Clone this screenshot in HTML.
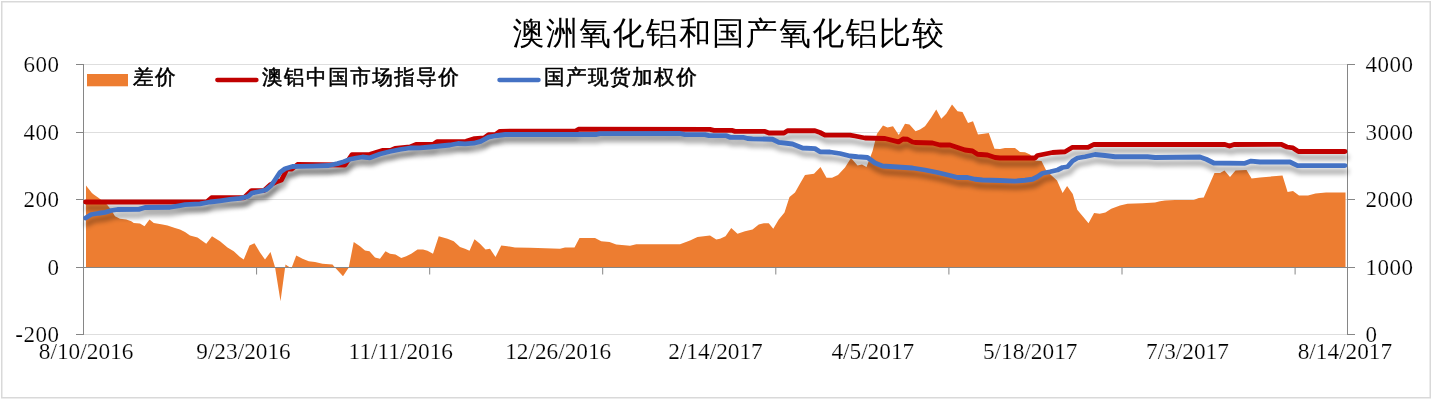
<!DOCTYPE html>
<html><head><meta charset="utf-8"><title>澳洲氧化铝和国产氧化铝比较</title>
<style>html,body{margin:0;padding:0;background:#fff;overflow:hidden}svg{display:block;will-change:transform}</style></head>
<body><svg width="1432" height="400" viewBox="0 0 1432 400"><defs><filter id="bl" x="-5%" y="-50%" width="110%" height="200%"><feGaussianBlur stdDeviation="2.5"/></filter></defs><rect x="0" y="0" width="1432" height="400" fill="#fff"/><rect x="1.75" y="1.75" width="1428.5" height="396" fill="none" stroke="#d9d9d9" stroke-width="1.5"/><line x1="84" y1="64.5" x2="1347" y2="64.5" stroke="#dedede" stroke-width="1"/><line x1="84" y1="132.5" x2="1347" y2="132.5" stroke="#dedede" stroke-width="1"/><line x1="84" y1="199.5" x2="1347" y2="199.5" stroke="#dedede" stroke-width="1"/><line x1="84" y1="334.5" x2="1347" y2="334.5" stroke="#dedede" stroke-width="1"/><polygon points="86.00,267.50 86.00,185.60 91.90,193.10 93.75,194.40 98.75,198.10 106.90,204.40 111.25,210.00 115.00,216.25 120.00,218.75 126.25,219.50 131.25,221.25 133.75,223.00 140.00,223.50 144.50,226.25 149.50,219.50 153.75,223.00 162.50,224.50 167.50,225.50 175.00,228.00 180.00,229.50 185.00,232.00 190.00,235.50 197.50,237.50 206.25,243.75 212.00,236.25 220.00,241.25 227.50,247.50 233.75,251.25 240.00,257.00 243.75,259.50 249.50,245.50 254.50,243.25 260.00,252.50 265.00,259.50 270.50,252.00 275.00,267.00 280.50,301.25 285.50,264.50 290.00,267.50 291.25,268.75 296.25,255.50 302.50,258.75 308.75,261.25 315.00,262.00 322.50,263.75 332.50,264.50 335.00,267.50 343.00,276.25 348.75,267.50 353.75,242.00 360.00,246.25 365.00,250.50 369.50,251.25 375.00,257.50 380.00,258.75 385.50,251.25 390.00,253.75 395.50,254.50 401.25,258.00 406.25,256.25 411.25,253.75 417.50,249.50 423.00,249.50 427.50,250.75 433.00,253.75 438.75,236.25 447.50,238.75 453.75,241.25 460.00,247.00 465.00,248.75 469.50,250.75 474.50,239.25 480.00,243.75 485.50,249.50 490.00,248.75 495.50,257.00 501.25,245.50 507.50,246.25 515.00,247.50 530.00,247.80 560.00,248.75 565.00,247.50 574.50,247.50 579.50,238.00 595.00,238.00 601.25,241.25 609.50,242.00 616.25,244.50 630.00,245.75 636.25,244.25 680.00,244.25 690.00,240.50 697.50,237.00 703.75,236.25 710.00,235.50 716.25,239.50 720.00,238.75 725.50,236.25 731.25,228.00 737.50,233.75 745.00,231.25 752.50,229.50 758.75,224.50 763.75,223.25 768.75,223.25 773.25,228.75 778.75,219.50 784.50,212.50 789.50,197.00 795.00,192.50 799.50,184.50 805.00,175.00 814.00,173.75 820.50,167.00 826.50,177.75 832.00,177.75 838.00,175.00 845.00,167.50 851.00,158.00 857.50,165.50 862.00,164.50 866.50,167.00 872.50,151.25 877.00,133.75 883.00,125.50 887.50,127.50 893.00,126.25 898.75,135.00 905.00,123.75 909.50,124.50 915.50,131.25 920.00,129.50 925.00,126.25 931.25,117.50 936.25,109.50 941.25,118.75 946.25,113.75 952.00,104.50 957.50,111.25 962.50,112.00 968.00,123.00 973.00,121.25 978.00,134.50 983.75,133.75 988.75,133.00 994.50,148.75 1000.00,149.00 1005.00,148.10 1015.00,148.10 1020.00,151.90 1025.00,152.25 1030.00,154.40 1035.00,160.50 1041.50,161.00 1046.00,170.00 1051.00,175.00 1057.00,180.50 1062.60,192.90 1067.10,186.10 1072.75,194.00 1077.25,209.75 1082.90,216.50 1088.50,223.25 1094.10,213.10 1099.75,213.80 1105.40,212.50 1111.25,208.75 1120.00,205.50 1127.50,203.75 1142.50,203.25 1155.00,202.50 1160.00,201.25 1165.00,200.50 1175.00,200.00 1193.75,200.00 1198.75,198.00 1203.75,197.50 1214.50,173.00 1220.00,173.00 1224.50,170.50 1230.00,177.00 1235.50,170.50 1246.50,170.00 1251.60,178.60 1260.00,177.40 1282.50,175.60 1287.60,192.10 1293.00,191.00 1299.00,195.40 1308.00,195.40 1315.50,193.60 1326.00,192.40 1345.50,192.40 1345.50,267.50" fill="#ED7D31"/><line x1="83" y1="267.5" x2="1348" y2="267.5" stroke="#868686" stroke-width="1"/><line x1="256.6" y1="267" x2="256.6" y2="274.5" stroke="#868686" stroke-width="1"/><line x1="429.7" y1="267" x2="429.7" y2="274.5" stroke="#868686" stroke-width="1"/><line x1="602.7" y1="267" x2="602.7" y2="274.5" stroke="#868686" stroke-width="1"/><line x1="775.8" y1="267" x2="775.8" y2="274.5" stroke="#868686" stroke-width="1"/><line x1="948.9" y1="267" x2="948.9" y2="274.5" stroke="#868686" stroke-width="1"/><line x1="1122.0" y1="267" x2="1122.0" y2="274.5" stroke="#868686" stroke-width="1"/><line x1="1295.1" y1="267" x2="1295.1" y2="274.5" stroke="#868686" stroke-width="1"/><line x1="83.5" y1="64" x2="83.5" y2="335" stroke="#868686" stroke-width="1"/><line x1="1347.5" y1="64" x2="1347.5" y2="335" stroke="#868686" stroke-width="1"/><line x1="76" y1="64.5" x2="84" y2="64.5" stroke="#868686" stroke-width="1"/><line x1="1347" y1="64.5" x2="1355" y2="64.5" stroke="#868686" stroke-width="1"/><line x1="76" y1="132.5" x2="84" y2="132.5" stroke="#868686" stroke-width="1"/><line x1="1347" y1="132.5" x2="1355" y2="132.5" stroke="#868686" stroke-width="1"/><line x1="76" y1="199.5" x2="84" y2="199.5" stroke="#868686" stroke-width="1"/><line x1="1347" y1="199.5" x2="1355" y2="199.5" stroke="#868686" stroke-width="1"/><line x1="76" y1="267.5" x2="84" y2="267.5" stroke="#868686" stroke-width="1"/><line x1="1347" y1="267.5" x2="1355" y2="267.5" stroke="#868686" stroke-width="1"/><line x1="76" y1="334.5" x2="84" y2="334.5" stroke="#868686" stroke-width="1"/><line x1="1347" y1="334.5" x2="1355" y2="334.5" stroke="#868686" stroke-width="1"/><g transform="translate(1.5,6)" filter="url(#bl)" opacity="0.36"><polyline points="85.60,202.00 206.50,202.00 211.50,197.75 244.00,197.75 251.50,190.60 264.00,190.60 270.00,185.00 276.00,182.00 281.50,180.00 287.00,169.00 292.00,169.00 297.50,164.50 345.00,165.00 352.00,154.70 370.00,154.40 383.00,150.40 391.00,150.20 395.00,148.40 410.00,146.90 416.00,144.40 433.00,144.40 437.00,141.60 466.00,141.40 474.60,138.60 484.20,138.00 488.60,134.60 495.60,134.50 500.00,131.30 575.50,131.00 578.50,129.25 710.00,129.40 714.00,130.30 731.70,130.30 735.00,131.40 765.00,131.40 769.00,133.00 784.00,133.00 787.50,130.75 815.00,130.75 820.00,132.50 825.00,135.10 850.00,135.10 855.00,136.00 865.00,138.00 885.00,138.50 898.50,141.90 903.00,139.00 907.50,139.25 912.50,142.00 915.00,142.50 932.50,143.00 940.00,145.00 950.00,145.00 957.50,147.50 965.00,150.00 972.50,151.00 977.50,154.25 987.50,155.00 995.00,157.50 1000.00,158.00 1035.00,158.00 1037.50,155.50 1045.00,154.00 1052.50,152.50 1065.00,151.75 1072.50,147.30 1088.00,147.30 1094.00,144.40 1225.00,144.50 1229.50,146.00 1234.00,144.50 1281.00,144.30 1287.00,147.00 1293.00,147.90 1298.40,151.50 1345.00,151.50" fill="none" stroke="#000" stroke-width="4.8" stroke-linejoin="round" stroke-linecap="round"/></g><g transform="translate(1.5,6)" filter="url(#bl)" opacity="0.36"><polyline points="85.60,218.00 91.25,214.50 98.75,213.25 105.00,212.40 111.25,210.50 117.50,209.50 138.75,209.40 145.00,207.50 170.00,207.25 180.00,205.60 185.00,204.70 200.00,203.80 210.00,202.00 220.00,200.80 230.00,199.40 240.00,198.30 248.00,196.50 252.00,193.00 262.00,191.00 266.25,189.70 271.25,185.50 276.25,178.00 280.00,172.40 285.00,168.70 292.50,166.50 300.00,166.30 312.50,166.10 328.75,165.50 337.50,163.60 343.75,161.75 350.00,159.25 356.25,158.00 362.50,157.00 370.00,157.80 380.00,154.00 390.00,151.50 400.00,149.50 410.00,148.00 420.00,147.80 430.00,147.00 440.00,146.00 450.00,145.00 458.00,143.50 465.00,143.80 473.75,143.20 480.75,141.40 488.60,137.10 495.60,135.75 505.25,134.50 596.50,134.50 599.80,133.70 680.00,133.50 685.00,134.70 705.00,134.70 709.00,135.70 726.50,135.70 730.00,137.30 743.00,137.30 747.50,138.50 752.50,138.80 772.50,139.25 778.75,142.40 792.50,144.00 802.50,148.00 815.00,148.60 820.00,151.75 830.00,152.00 840.00,153.50 850.00,156.00 857.50,156.75 867.50,157.50 875.00,163.00 882.50,166.00 897.50,167.00 912.50,168.00 925.00,170.00 937.50,172.50 950.00,175.50 957.50,177.50 967.50,177.50 975.00,179.25 982.50,180.00 1000.00,180.50 1015.00,181.10 1025.00,180.25 1032.50,179.25 1037.50,176.75 1042.50,173.25 1050.00,171.75 1057.50,170.00 1062.50,167.50 1067.50,166.75 1072.50,161.00 1077.50,158.00 1085.00,156.75 1095.00,154.50 1105.00,155.50 1115.00,156.75 1147.50,156.75 1155.00,157.50 1200.00,157.00 1206.25,159.25 1213.75,163.00 1245.00,163.30 1251.00,161.10 1260.00,162.00 1290.00,162.00 1297.50,165.60 1345.00,165.60" fill="none" stroke="#000" stroke-width="4.8" stroke-linejoin="round" stroke-linecap="round"/></g><polyline points="85.60,202.00 206.50,202.00 211.50,197.75 244.00,197.75 251.50,190.60 264.00,190.60 270.00,185.00 276.00,182.00 281.50,180.00 287.00,169.00 292.00,169.00 297.50,164.50 345.00,165.00 352.00,154.70 370.00,154.40 383.00,150.40 391.00,150.20 395.00,148.40 410.00,146.90 416.00,144.40 433.00,144.40 437.00,141.60 466.00,141.40 474.60,138.60 484.20,138.00 488.60,134.60 495.60,134.50 500.00,131.30 575.50,131.00 578.50,129.25 710.00,129.40 714.00,130.30 731.70,130.30 735.00,131.40 765.00,131.40 769.00,133.00 784.00,133.00 787.50,130.75 815.00,130.75 820.00,132.50 825.00,135.10 850.00,135.10 855.00,136.00 865.00,138.00 885.00,138.50 898.50,141.90 903.00,139.00 907.50,139.25 912.50,142.00 915.00,142.50 932.50,143.00 940.00,145.00 950.00,145.00 957.50,147.50 965.00,150.00 972.50,151.00 977.50,154.25 987.50,155.00 995.00,157.50 1000.00,158.00 1035.00,158.00 1037.50,155.50 1045.00,154.00 1052.50,152.50 1065.00,151.75 1072.50,147.30 1088.00,147.30 1094.00,144.40 1225.00,144.50 1229.50,146.00 1234.00,144.50 1281.00,144.30 1287.00,147.00 1293.00,147.90 1298.40,151.50 1345.00,151.50" fill="none" stroke="#C00000" stroke-width="4.8" stroke-linejoin="round" stroke-linecap="round"/><polyline points="85.60,218.00 91.25,214.50 98.75,213.25 105.00,212.40 111.25,210.50 117.50,209.50 138.75,209.40 145.00,207.50 170.00,207.25 180.00,205.60 185.00,204.70 200.00,203.80 210.00,202.00 220.00,200.80 230.00,199.40 240.00,198.30 248.00,196.50 252.00,193.00 262.00,191.00 266.25,189.70 271.25,185.50 276.25,178.00 280.00,172.40 285.00,168.70 292.50,166.50 300.00,166.30 312.50,166.10 328.75,165.50 337.50,163.60 343.75,161.75 350.00,159.25 356.25,158.00 362.50,157.00 370.00,157.80 380.00,154.00 390.00,151.50 400.00,149.50 410.00,148.00 420.00,147.80 430.00,147.00 440.00,146.00 450.00,145.00 458.00,143.50 465.00,143.80 473.75,143.20 480.75,141.40 488.60,137.10 495.60,135.75 505.25,134.50 596.50,134.50 599.80,133.70 680.00,133.50 685.00,134.70 705.00,134.70 709.00,135.70 726.50,135.70 730.00,137.30 743.00,137.30 747.50,138.50 752.50,138.80 772.50,139.25 778.75,142.40 792.50,144.00 802.50,148.00 815.00,148.60 820.00,151.75 830.00,152.00 840.00,153.50 850.00,156.00 857.50,156.75 867.50,157.50 875.00,163.00 882.50,166.00 897.50,167.00 912.50,168.00 925.00,170.00 937.50,172.50 950.00,175.50 957.50,177.50 967.50,177.50 975.00,179.25 982.50,180.00 1000.00,180.50 1015.00,181.10 1025.00,180.25 1032.50,179.25 1037.50,176.75 1042.50,173.25 1050.00,171.75 1057.50,170.00 1062.50,167.50 1067.50,166.75 1072.50,161.00 1077.50,158.00 1085.00,156.75 1095.00,154.50 1105.00,155.50 1115.00,156.75 1147.50,156.75 1155.00,157.50 1200.00,157.00 1206.25,159.25 1213.75,163.00 1245.00,163.30 1251.00,161.10 1260.00,162.00 1290.00,162.00 1297.50,165.60 1345.00,165.60" fill="none" stroke="#4472C4" stroke-width="4.8" stroke-linejoin="round" stroke-linecap="round"/><text x="512.5" y="43.8" font-family="'Liberation Sans','WenQuanYi Zen Hei','Noto Sans CJK SC',sans-serif" font-size="32" letter-spacing="1.3" fill="#000">澳洲氧化铝和国产氧化铝比较</text><rect x="87" y="74" width="41" height="12.3" fill="#ED7D31"/><text x="133" y="84.3" font-family="'Liberation Sans','WenQuanYi Zen Hei','Noto Sans CJK SC',sans-serif" font-size="20.6" letter-spacing="1.45" fill="#000" stroke="#000" stroke-width="0.5">差价</text><line x1="217.3" y1="80" x2="256.5" y2="80" stroke="#C00000" stroke-width="4.3" stroke-linecap="round"/><text x="262" y="84.3" font-family="'Liberation Sans','WenQuanYi Zen Hei','Noto Sans CJK SC',sans-serif" font-size="20.6" letter-spacing="1.45" fill="#000" stroke="#000" stroke-width="0.5">澳铝中国市场指导价</text><line x1="499.4" y1="80" x2="538.6" y2="80" stroke="#4472C4" stroke-width="4.3" stroke-linecap="round"/><text x="543.9" y="84.3" font-family="'Liberation Sans','WenQuanYi Zen Hei','Noto Sans CJK SC',sans-serif" font-size="20.6" letter-spacing="1.45" fill="#000" stroke="#000" stroke-width="0.5">国产现货加权价</text><text x="59.5" y="72" text-anchor="end" font-family="'Liberation Serif','Times New Roman',serif" font-size="23" letter-spacing="0.5" fill="#000" stroke="#fff" stroke-width="0.2">600</text><text x="59.5" y="140" text-anchor="end" font-family="'Liberation Serif','Times New Roman',serif" font-size="23" letter-spacing="0.5" fill="#000" stroke="#fff" stroke-width="0.2">400</text><text x="59.5" y="207" text-anchor="end" font-family="'Liberation Serif','Times New Roman',serif" font-size="23" letter-spacing="0.5" fill="#000" stroke="#fff" stroke-width="0.2">200</text><text x="59.5" y="275" text-anchor="end" font-family="'Liberation Serif','Times New Roman',serif" font-size="23" letter-spacing="0.5" fill="#000" stroke="#fff" stroke-width="0.2">0</text><text x="59.5" y="342" text-anchor="end" font-family="'Liberation Serif','Times New Roman',serif" font-size="23" letter-spacing="0.5" fill="#000" stroke="#fff" stroke-width="0.2">-200</text><text x="1365.5" y="72" font-family="'Liberation Serif','Times New Roman',serif" font-size="23" letter-spacing="0.5" fill="#000" stroke="#fff" stroke-width="0.2">4000</text><text x="1365.5" y="140" font-family="'Liberation Serif','Times New Roman',serif" font-size="23" letter-spacing="0.5" fill="#000" stroke="#fff" stroke-width="0.2">3000</text><text x="1365.5" y="207" font-family="'Liberation Serif','Times New Roman',serif" font-size="23" letter-spacing="0.5" fill="#000" stroke="#fff" stroke-width="0.2">2000</text><text x="1365.5" y="275" font-family="'Liberation Serif','Times New Roman',serif" font-size="23" letter-spacing="0.5" fill="#000" stroke="#fff" stroke-width="0.2">1000</text><text x="1365.5" y="342" font-family="'Liberation Serif','Times New Roman',serif" font-size="23" letter-spacing="0.5" fill="#000" stroke="#fff" stroke-width="0.2">0</text><text x="86.1" y="359" text-anchor="middle" font-family="'Liberation Serif','Times New Roman',serif" font-size="23.3" fill="#000" stroke="#fff" stroke-width="0.2">8/10/2016</text><text x="243.5" y="359" text-anchor="middle" font-family="'Liberation Serif','Times New Roman',serif" font-size="23.3" fill="#000" stroke="#fff" stroke-width="0.2">9/23/2016</text><text x="400.8" y="359" text-anchor="middle" font-family="'Liberation Serif','Times New Roman',serif" font-size="23.3" fill="#000" stroke="#fff" stroke-width="0.2">11/11/2016</text><text x="558.2" y="359" text-anchor="middle" font-family="'Liberation Serif','Times New Roman',serif" font-size="23.3" fill="#000" stroke="#fff" stroke-width="0.2">12/26/2016</text><text x="715.5" y="359" text-anchor="middle" font-family="'Liberation Serif','Times New Roman',serif" font-size="23.3" fill="#000" stroke="#fff" stroke-width="0.2">2/14/2017</text><text x="872.8" y="359" text-anchor="middle" font-family="'Liberation Serif','Times New Roman',serif" font-size="23.3" fill="#000" stroke="#fff" stroke-width="0.2">4/5/2017</text><text x="1030.2" y="359" text-anchor="middle" font-family="'Liberation Serif','Times New Roman',serif" font-size="23.3" fill="#000" stroke="#fff" stroke-width="0.2">5/18/2017</text><text x="1187.5" y="359" text-anchor="middle" font-family="'Liberation Serif','Times New Roman',serif" font-size="23.3" fill="#000" stroke="#fff" stroke-width="0.2">7/3/2017</text><text x="1344.9" y="359" text-anchor="middle" font-family="'Liberation Serif','Times New Roman',serif" font-size="23.3" fill="#000" stroke="#fff" stroke-width="0.2">8/14/2017</text></svg></body></html>
